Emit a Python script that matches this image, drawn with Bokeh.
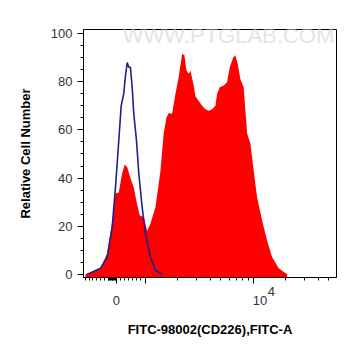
import math
from bokeh.plotting import figure
from bokeh.models import FixedTicker, Label, LinearAxis
from bokeh.embed import file_html
from bokeh.resources import INLINE

# Display-scale x coordinate (logicle-like): 10^3 -> 3, 10^4 -> 4
red_x = [2.444, 2.583, 2.645, 2.692, 2.722, 2.753, 2.784, 2.808, 2.831, 2.861,
         2.892, 2.923, 2.947, 2.984, 3.016, 3.046, 3.093, 3.139, 3.169, 3.194,
         3.216, 3.247, 3.278, 3.308, 3.340, 3.361, 3.380, 3.401, 3.417, 3.447,
         3.463, 3.494, 3.525, 3.556, 3.586, 3.618, 3.648, 3.664, 3.688, 3.725,
         3.756, 3.781, 3.812, 3.833, 3.855, 3.880, 3.910, 3.942, 3.972, 4.003,
         4.034, 4.081, 4.127, 4.173, 4.234, 4.312]
red_y = [0, 2.5, 8.7, 22, 33.6, 34, 42, 45.6, 44.5, 40,
         36, 29, 24.5, 23.8, 18, 21, 28, 43, 58.5, 65,
         67, 66.7, 75, 82, 91.6, 91, 84.6, 83.3, 84.6, 78.4,
         74, 72, 70, 68.6, 68, 68.6, 70, 75, 77.7, 78.4,
         79.8, 86, 90, 91, 87.4, 81, 77.7, 58.5, 54.4, 43,
         32, 22.4, 14, 7.2, 2.5, 0]

blue_x = [2.460, 2.583, 2.645, 2.692, 2.722, 2.753, 2.775, 2.799, 2.815, 2.831,
          2.845, 2.861, 2.877, 2.892, 2.917, 2.938, 2.969, 3.0, 3.046, 3.093, 3.155]
blue_y = [0, 2.5, 7.2, 19.6, 36, 55.6, 70, 75, 82.6, 88,
          86, 86, 77.7, 66.7, 55.6, 42, 28, 17, 7.2, 1.7, 0]

zero_pos = 2.731
x_major = [zero_pos, 3, 4]
x_labels = {zero_pos: "0", 3: "", 4: "\u2002\u200210"}
sup_pos = 4.167
sup_labels = {sup_pos: "4"}
y_major = [0, 20, 40, 60, 80, 100]

X0, X1 = 2.426, 4.77
Y0, Y1 = -1.3, 101.7

p = figure(width=353, height=348, output_backend="svg", toolbar_location=None,
           x_range=(X0, X1), y_range=(Y0, Y1),
           min_border_left=83, min_border_right=17, min_border_top=29, min_border_bottom=71)
p.grid.visible = False
p.outline_line_color = "black"
p.outline_line_width = 1
p.background_fill_color = "white"
p.border_fill_color = "white"

p.varea(x=red_x, y1=[Y0] * len(red_x), y2=red_y, fill_color="#ff0000")
p.line(x=blue_x, y=blue_y, line_color="#1f1f8f", line_width=1.6)

# minor ticks
minor = []
v = 2.44
while v < 2.99:
    minor.append(round(v, 4))
    v += 0.037
for k in range(2, 10):
    minor.append(3 + math.log10(k))
    minor.append(4 + math.log10(k))
for px in range(108, 116):
    minor.append(3 + (px - 145) / 108)
minor = [m for m in minor if X0 < m < X1]

p.xaxis.ticker = FixedTicker(ticks=x_major, minor_ticks=minor)
p.xaxis.major_label_overrides = x_labels
p.yaxis.ticker = FixedTicker(ticks=y_major, minor_ticks=list(range(0, 101, 5)))

# second x axis carrying the exponent of 10^4 and the axis title
sup_axis = LinearAxis(ticker=FixedTicker(ticks=[sup_pos], minor_ticks=[]),
                      major_label_overrides=sup_labels)
p.add_layout(sup_axis, "below")

for ax in (p.xaxis[0], p.yaxis[0], sup_axis):
    ax.axis_line_color = "black"
    ax.major_tick_line_color = "black"
    ax.minor_tick_line_color = "black"
    ax.major_tick_out = 6
    ax.major_tick_in = 0
    ax.minor_tick_out = 3
    ax.minor_tick_in = 0
    ax.major_label_text_font = "Liberation Sans"
    ax.major_label_text_font_size = "13px"
    ax.major_label_text_color = "#333333"
    ax.axis_label_text_font = "Liberation Sans"
    ax.axis_label_text_font_size = "13px"
    ax.axis_label_text_font_style = "bold"
    ax.axis_label_text_color = "black"

sup_axis.axis_line_color = None
sup_axis.major_tick_line_color = None
sup_axis.minor_tick_line_color = None
sup_axis.major_tick_out = 0
sup_axis.minor_tick_out = 0
sup_axis.major_label_standoff = -24
sup_axis.axis_label = "FITC-98002(CD226),FITC-A"
sup_axis.axis_label_standoff = 23

p.xaxis[0].major_label_standoff = 9
p.yaxis.axis_label = "Relative Cell Number"
p.yaxis.major_label_standoff = 5
p.yaxis.axis_label_standoff = 15

# watermark
p.add_layout(Label(x=145, y=242, x_units="screen", y_units="screen",
                   text="WWW.PTGLAB.COM", text_font="Liberation Sans",
                   text_font_size="22px", text_color="#e4e4e4",
                   text_align="center", text_baseline="middle"))

open("out.html", "w").write(file_html(p, INLINE))
